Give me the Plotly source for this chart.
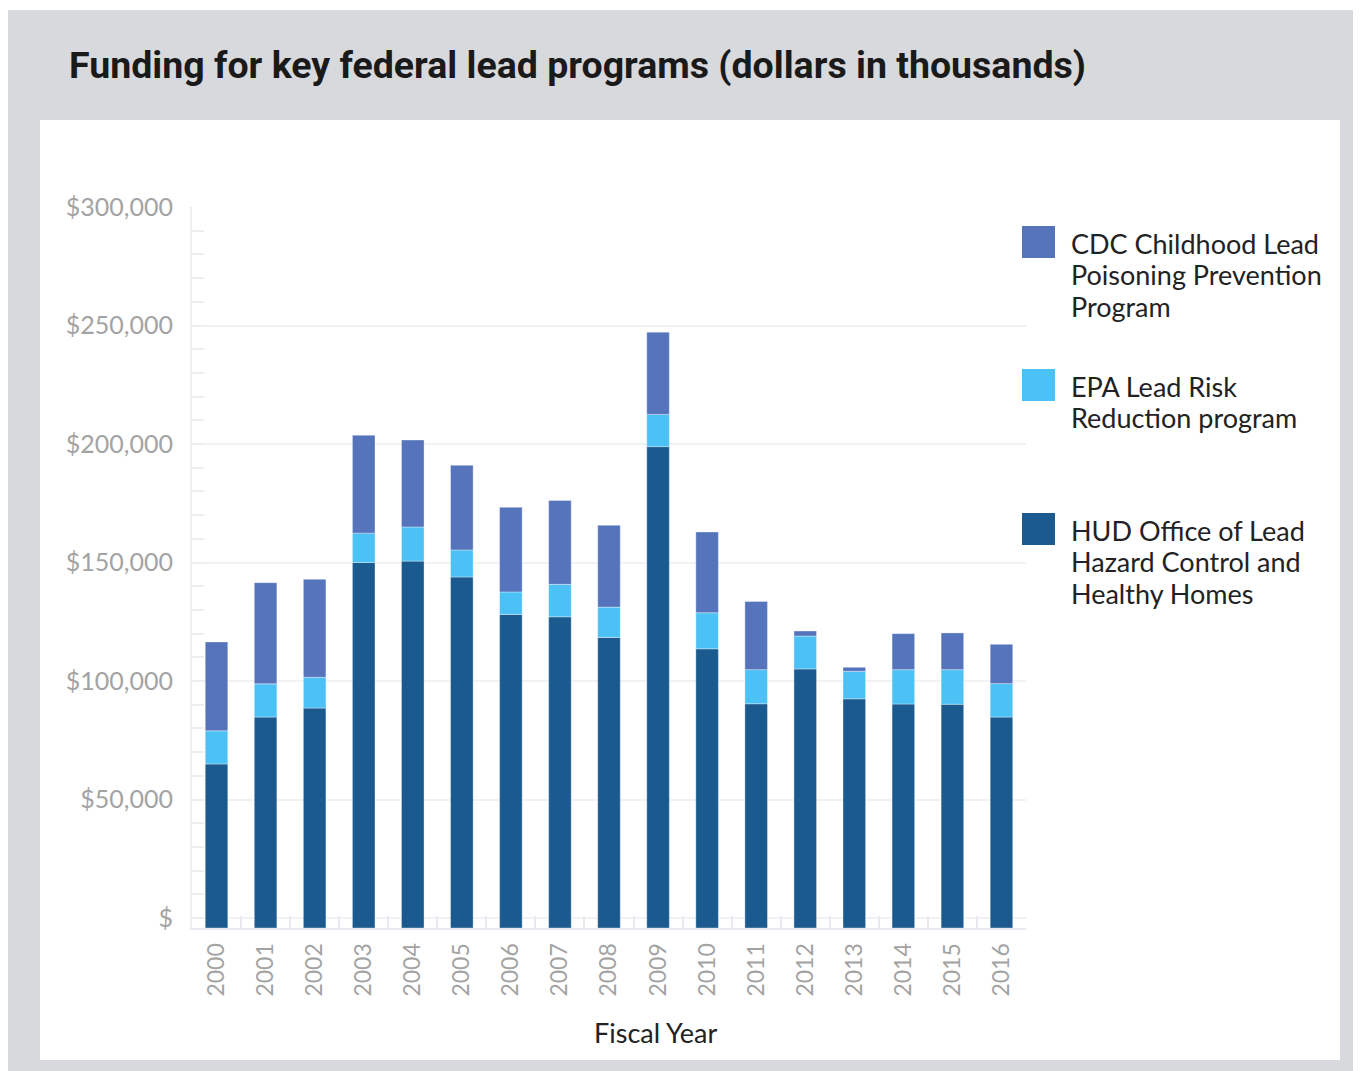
import plotly.graph_objects as go

# ---- data (dollars in thousands) ----
years = [str(y) for y in range(2000, 2017)]
hud = [65000, 84800, 88600, 150000, 150600, 143900, 128100, 127100, 118400,
       198900, 113600, 90400, 105100, 92500, 90300, 90200, 84800]
epa = [14000, 14000, 13000, 12400, 14400, 11400, 9500, 13700, 12800,
       13600, 15200, 14400, 13900, 11600, 14500, 14600, 14100]
cdc = [37500, 42700, 41300, 41300, 36700, 35700, 35700, 35400, 34500,
       34700, 34100, 28800, 2100, 1700, 15200, 15500, 16600]

y_tickvals = [0, 50000, 100000, 150000, 200000, 250000, 300000]
y_ticktext = ["$", "$50,000", "$100,000", "$150,000", "$200,000", "$250,000", "$300,000"]

series_names = [
    ["CDC Childhood Lead", "Poisoning Prevention", "Program"],
    ["EPA Lead Risk", "Reduction program"],
    ["HUD Office of Lead", "Hazard Control and", "Healthy Homes"],
]

# ---- style ----
C_CDC = "#5674bc"
C_EPA = "#4cc1f5"
C_HUD = "#1a5a8e"
GRAY_BG = "#d8d9dd"
FONT = "Lato, 'Noto Sans', sans-serif"
TITLE_FONT = "Roboto, 'Noto Sans', sans-serif"

OFF = 8  # page body margin
W, H = 1361, 1071
# plot area in screen pixels
SL, SR, ST, SB = 192, 1026, 207, 928
L, R, T, B = SL - OFF, SR - OFF, ST - OFF, SB - OFF
Y_MIN, Y_MAX = -4200, 300000

def px(x):
    return (x - OFF - L) / (R - L)

def py(y):
    return (B - (y - OFF)) / (B - T)

fig = go.Figure()
line = dict(color="rgba(255,255,255,0.35)", width=1)
fig.add_trace(go.Bar(x=years, y=[v - Y_MIN for v in hud], base=Y_MIN,
                     marker=dict(color=C_HUD, line=line), name=" ".join(series_names[2]),
                     customdata=hud, hovertemplate="%{x}: $%{customdata:,}<extra>HUD</extra>"))
fig.add_trace(go.Bar(x=years, y=epa, base=hud,
                     marker=dict(color=C_EPA, line=line), name=" ".join(series_names[1])))
fig.add_trace(go.Bar(x=years, y=cdc, base=[h + e for h, e in zip(hud, epa)],
                     marker=dict(color=C_CDC, line=line), name=" ".join(series_names[0])))

shapes = [
    dict(type="rect", xref="paper", yref="paper", x0=px(0), x1=px(1400), y0=py(0), y1=py(10),
         fillcolor="white", line=dict(width=0), layer="below"),
    dict(type="rect", xref="paper", yref="paper", x0=px(40), x1=px(1340), y0=py(120), y1=py(1060),
         fillcolor="white", line=dict(width=0), layer="below"),
]

annotations = [
    dict(text="<b>Funding for key federal lead programs (dollars in thousands)</b>",
         xref="paper", yref="paper", x=px(67), y=py(65), xanchor="left", yanchor="middle",
         showarrow=False, font=dict(family=TITLE_FONT, size=37.5, color="#1a1a1a")),
    dict(text="Fiscal Year", xref="paper", yref="paper", x=px(655), y=py(1032),
         xanchor="center", yanchor="middle", showarrow=False,
         font=dict(family=FONT, size=27, color="#222222")),
]

legend_tops = [226, 369, 513]
legend_colors = [C_CDC, C_EPA, C_HUD]
for top, col, lines in zip(legend_tops, legend_colors, series_names):
    shapes.append(dict(type="rect", xref="paper", yref="paper", x0=px(1022), x1=px(1055),
                       y0=py(top), y1=py(top + 32), fillcolor=col, line=dict(width=0)))
    for i, t in enumerate(lines):
        annotations.append(dict(text=t, xref="paper", yref="paper", x=px(1069),
                                y=py(top + 17 + i * 31.5), xanchor="left", yanchor="middle",
                                showarrow=False,
                                font=dict(family=FONT, size=27, color="#222222")))

fig.update_layout(
    width=W, height=H,
    margin=dict(l=L, r=W - R, t=T, b=H - B, pad=0),
    paper_bgcolor=GRAY_BG, plot_bgcolor="rgba(0,0,0,0)",
    barmode="overlay", bargap=0.54,
    showlegend=False,
    shapes=shapes, annotations=annotations,
    font=dict(family=FONT),
)
fig.update_xaxes(
    type="category", range=[-0.5, 16.5],
    showline=True, linecolor="#e9eaef", linewidth=2,
    ticks="inside", tickson="boundaries", ticklen=12, tickcolor="#e9eaef", tickwidth=2,
    tickangle=-90, tickfont=dict(family=FONT, size=23, color="#a3a3a3"),
    ticklabelstandoff=4, showgrid=False,
)
fig.update_yaxes(
    range=[Y_MIN, Y_MAX],
    tickvals=y_tickvals, ticktext=y_ticktext,
    showline=True, linecolor="#eceef2", linewidth=2,
    ticks="inside", ticklen=12, tickcolor="#eceef2", tickwidth=2,
    minor=dict(dtick=10000, tick0=0, ticks="inside", ticklen=12, tickcolor="#eceef2",
               tickwidth=2, showgrid=False),
    showgrid=True, gridcolor="#f1f2f5", gridwidth=2,
    zeroline=False,
    tickfont=dict(family=FONT, size=25, color="#a3a3a3"),
    ticklabelstandoff=12,
)

fig.write_html("out.html")
